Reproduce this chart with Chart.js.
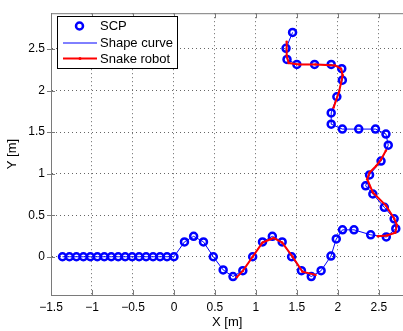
<!DOCTYPE html>
<html><head><meta charset="utf-8">
<script src="https://cdn.jsdelivr.net/npm/chart.js@4.4.0/dist/chart.umd.min.js"></script>
<style>html,body{margin:0;padding:0;background:#fff;overflow:hidden;width:403px;height:331px}#wrap{width:410px;height:331px}</style>
</head><body><div id="wrap"><canvas id="c" width="410" height="331"></canvas></div>
<script>
// Shape control points (SCP)
const scpX = [-1.36,-1.275,-1.19,-1.105,-1.02,-0.935,-0.85,-0.765,-0.68,-0.595,-0.51,-0.425,-0.34,-0.255,-0.17,-0.085,0,
  0.128,0.24,0.36,0.48,0.60,0.72,0.84,0.96,1.08,1.20,1.32,1.435,1.555,1.675,1.795,1.915,1.98,2.056,2.196,2.40,2.59,
  2.706,2.686,2.566,2.426,2.338,2.386,2.526,2.614,2.586,2.458,2.254,2.054,1.918,1.918,1.987,2.054,2.047,1.918,1.715,1.499,1.379,1.367,1.447];
const scpY = [0,0,0,0,0,0,0,0,0,0,0,0,0,0,0,0,0,
  0.179,0.246,0.179,0.0,-0.158,-0.238,-0.167,0.0,0.179,0.246,0.179,0.0,-0.167,-0.238,-0.167,0.008,0.215,0.324,0.324,0.264,0.238,
  0.338,0.457,0.595,0.755,0.854,0.985,1.151,1.342,1.476,1.536,1.536,1.536,1.595,1.73,1.925,2.124,2.262,2.314,2.314,2.314,2.374,2.508,2.699];
// Snake robot (three snapshots)
const robot1X = [0.767,0.84,0.96,1.08,1.215,1.32,1.447,1.567,1.727];
const robot1Y = [-0.245,-0.17,0.0,0.17,0.226,0.17,0.0,-0.179,-0.218];
const robot2X = [2.486,2.60,2.70,2.72,2.686,2.586,2.426,2.357,2.386,2.466,2.526,2.586];
const robot2Y = [0.246,0.255,0.29,0.38,0.46,0.615,0.774,0.933,1.012,1.092,1.171,1.279];
const robot3X = [1.947,2.014,2.058,2.038,1.966,1.727,1.527,1.399,1.375,1.375];
const robot3Y = [1.794,1.984,2.183,2.262,2.302,2.314,2.314,2.33,2.42,2.588];
const xTicks = [-1.5,-1,-0.5,0,0.5,1,1.5,2,2.5];
const yTicks = [0,0.5,1,1.5,2,2.5];
const legendLabels = ['SCP','Shape curve','Snake robot'];

const pts = (xs, ys) => xs.map((x, i) => ({x: x, y: ys[i]}));
const FONT = "'Liberation Sans', Arial, sans-serif";
const blue = '#0000ff', red = '#ff0000';

const robotStyle = {type:'scatter', showLine:true, borderColor:red, backgroundColor:red, borderWidth:2,
  pointRadius:1.2, pointBorderWidth:0, pointBackgroundColor:red, tension:0, order:0};

const insideTicks = {
  id:'insideTicks',
  afterDatasetsDraw(chart){
    const {ctx, chartArea:a, scales:{x, y}} = chart;
    ctx.save();
    ctx.strokeStyle = '#7a7a7a'; ctx.lineWidth = 1;
    ctx.beginPath();
    ctx.moveTo(a.left, a.top + 0.5); ctx.lineTo(a.right, a.top + 0.5);
    xTicks.forEach(v => { const p = Math.round(x.getPixelForValue(v)) + 0.5;
      ctx.moveTo(p, a.bottom); ctx.lineTo(p, a.bottom - 5);
      ctx.moveTo(p, a.top); ctx.lineTo(p, a.top + 5); });
    yTicks.forEach(v => { const p = Math.round(y.getPixelForValue(v)) + 0.5;
      ctx.moveTo(a.left - 4, p); ctx.lineTo(a.left + 4, p); });
    ctx.stroke();
    // legend
    const L = 57, T = 16, R = 177, B = 68;
    ctx.fillStyle = '#fff'; ctx.fillRect(L, T, R - L, B - T);
    ctx.strokeStyle = '#000'; ctx.lineWidth = 1; ctx.strokeRect(L + 0.5, T + 0.5, R - L, B - T);
    const rows = [26, 42.5, 58.5];
    ctx.font = '13px ' + FONT; ctx.fillStyle = '#000'; ctx.textBaseline = 'middle'; ctx.textAlign = 'left';
    legendLabels.forEach((t, i) => ctx.fillText(t, 100, rows[i] + 0.5));
    ctx.strokeStyle = blue; ctx.lineWidth = 2.5;
    ctx.beginPath(); ctx.arc(79.5, rows[0], 3.5, 0, Math.PI * 2); ctx.stroke();
    ctx.strokeStyle = blue; ctx.lineWidth = 1;
    ctx.beginPath(); ctx.moveTo(63, rows[1] + 0.5); ctx.lineTo(97, rows[1] + 0.5); ctx.stroke();
    ctx.strokeStyle = red; ctx.lineWidth = 2;
    ctx.beginPath(); ctx.moveTo(63, rows[2]); ctx.lineTo(97, rows[2]); ctx.stroke();
    ctx.fillStyle = red; ctx.beginPath(); ctx.arc(80, rows[2], 1.5, 0, Math.PI*2); ctx.fill();
    ctx.restore();
  }
};

const fmt = v => String(v).replace('-', '\u2212');

new Chart(document.getElementById('c'), {
  type: 'scatter',
  data: { datasets: [
    Object.assign({label:'Snake robot', data: pts(robot1X, robot1Y)}, robotStyle),
    Object.assign({label:'Snake robot', data: pts(robot2X, robot2Y)}, robotStyle),
    Object.assign({label:'Snake robot', data: pts(robot3X, robot3Y)}, robotStyle),
    {label:'SCP', data: pts(scpX, scpY), showLine:false, pointRadius:3.5, pointBorderWidth:2.5,
      pointBorderColor:blue, pointBackgroundColor:'rgba(255,255,255,0)', order:1},
    {label:'Shape curve', data: pts(scpX, scpY), showLine:true, borderColor:blue, borderWidth:1,
      pointRadius:0, tension:0, order:2}
  ]},
  options: {
    responsive:false, animation:false, devicePixelRatio:1,
    layout:{padding:{top:11, right:0, left:0, bottom:0}},
    plugins:{legend:{display:false}, tooltip:{enabled:false}},
    events:[],
    scales:{
      x:{type:'linear', min:-1.5, max:2.8,
        afterBuildTicks(s){ s.ticks = xTicks.map(v => ({value:v})); },
        afterFit(s){ s.height = 36; },
        grid:{color:'#666', lineWidth:1, drawTicks:false},
        border:{display:true, color:'#7a7a7a', width:1, dash:[1,3]},
        ticks:{color:'#000', font:{family:FONT, size:12}, padding:5, callback:fmt, maxRotation:0, autoSkip:false},
        title:{display:true, text:'X [m]', color:'#000', font:{family:FONT, size:13}, padding:{top:0, bottom:1}}
      },
      y:{type:'linear', min:-0.46, max:2.93,
        afterBuildTicks(s){ s.ticks = yTicks.map(v => ({value:v})); },
        afterFit(s){ s.width = 51; },
        grid:{color:'#666', lineWidth:1, drawTicks:false},
        border:{display:true, color:'#7a7a7a', width:1, dash:[1,3]},
        ticks:{color:'#000', font:{family:FONT, size:12}, padding:6, callback:fmt, autoSkip:false},
        title:{display:true, text:'Y [m]', color:'#000', font:{family:FONT, size:13}, padding:{top:5, bottom:0}}
      }
    }
  },
  plugins:[insideTicks]
});
</script></body></html>
